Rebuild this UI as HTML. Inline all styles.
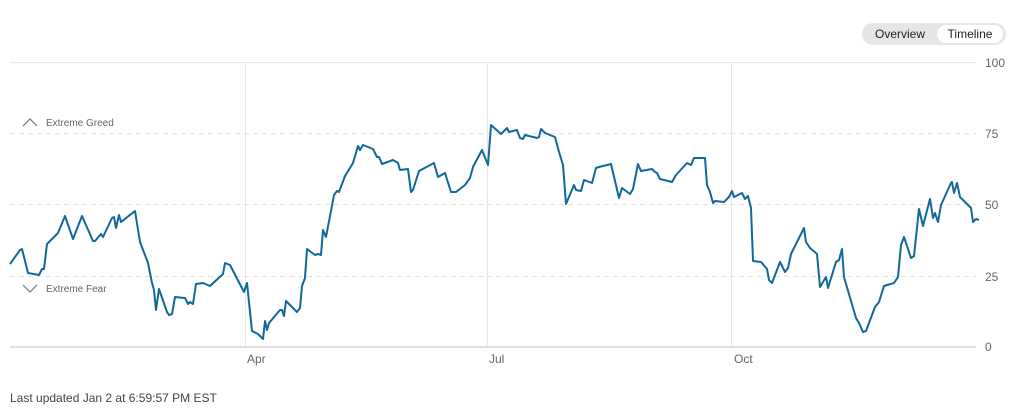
<!DOCTYPE html>
<html><head><meta charset="utf-8"><style>
body{margin:0;background:#fff;width:1024px;height:412px;overflow:hidden;font-family:"Liberation Sans",sans-serif;}
.tog{position:absolute;left:862px;top:23px;width:144px;height:22px;background:#e6e6e6;border-radius:11px;}
.tog span{position:absolute;top:0;height:22px;line-height:22px;font-size:12px;color:#222;}
.tog .on{left:75px;width:66px;top:2px;height:18px;line-height:18px;background:#fff;border-radius:9px;text-align:center;}
</style></head><body>
<div class="tog"><span style="left:13px">Overview</span><span class="on">Timeline</span></div>
<svg width="1024" height="412" style="position:absolute;left:0;top:0" font-family="Liberation Sans, sans-serif">
<g stroke="#e8e8e8" stroke-width="1">
<line x1="10" y1="62.5" x2="976" y2="62.5"/>
<line x1="245.5" y1="62" x2="245.5" y2="347"/>
<line x1="487.5" y1="62" x2="487.5" y2="347"/>
<line x1="731.5" y1="62" x2="731.5" y2="347"/>
</g>
<g stroke="#e2e2e2" stroke-dasharray="5,4">
<line x1="10" y1="133.5" x2="976" y2="133.5"/>
<line x1="10" y1="204.5" x2="976" y2="204.5"/>
<line x1="10" y1="276.5" x2="976" y2="276.5"/>
</g>
<line x1="10" y1="347" x2="976" y2="347" stroke="#e0e0e0" stroke-width="2"/>
<g font-size="12" fill="#666">
<text x="985" y="67">100</text><text x="985" y="138">75</text><text x="985" y="209">50</text><text x="985" y="281">25</text><text x="985" y="351">0</text>
<text x="247" y="363">Apr</text><text x="489" y="363">Jul</text><text x="734" y="363">Oct</text>
</g>
<g font-size="10" fill="#666">
<polyline points="23,126 30,119 37,126" fill="none" stroke="#777" stroke-width="1.2"/>
<text x="46" y="126">Extreme Greed</text>
<polyline points="23,285 30,292 37,285" fill="none" stroke="#777" stroke-width="1.2"/>
<text x="46" y="292">Extreme Fear</text>
</g>
<polyline fill="none" stroke="#11689a" stroke-width="2" stroke-linejoin="round" points="10,264 20,250 22,249 28,273 39,275 42,269 44,269 47,244 58,233 65,216 73,239 82,216 93,241 95,241 101,234 103,237 112,218 114,217 116,228 119,215 121,222 135,211 140,242 148,263 152,283 154,290 156,310 159,289 167,312 169,315 172,314 175,297 185,298 188,304 190,302 193,304 196,284 203,283 210,286 223,274 225,263 230,265 244,292 247,283 252,331 258,334 263,339 265,321 267,330 269,323 280,310 282,310 284,316 286,301 297,312 300,308 302,286 305,278 307,249 315,255 318,254 321,255 323,230 326,237 334,195 337,191 339,192 345,176 353,163 358,146 360,150 363,145 373,149 377,157 379,157 382,164 393,160 398,163 400,170 408,169 411,192 413,190 419,171 434,163 438,177 445,173 451,192 456,192 465,185 470,178 473,167 482,150 488,165 491,125 501,134 507,128 509,132 517,130 520,138 523,139 525,135 537,138 539,137 541,129 545,133 555,137 559,152 563,165 566,204 574,185 576,190 581,191 584,180 592,183 596,168 599,167 611,164 619,198 622,188 630,194 633,189 635,179 638,164 641,171 652,169 655,172 657,173 660,179 672,182 676,175 687,163 691,165 694,158 705,158 707,185 710,192 713,203 715,201 724,202 729,197 732,191 734,197 742,193 745,199 748,196 751,208 753,261 761,262 767,269 769,280 772,283 780,262 785,272 788,268 791,254 804,228 806,242 810,248 817,254 820,287 826,277 828,288 836,262 839,260 842,249 844,277 856,318 859,323 863,332 866,331 875,307 879,302 884,286 894,283 898,277 901,245 904,237 911,258 914,256 919,209 923,226 930,199 933,218 935,213 938,222 941,205 951,183 952,182 954,193 957,183 960,197 971,208 973,222 976,219 979,220"/>
<text x="10" y="402" font-size="12" fill="#444">Last updated Jan 2 at 6:59:57 PM EST</text>
</svg>
</body></html>
